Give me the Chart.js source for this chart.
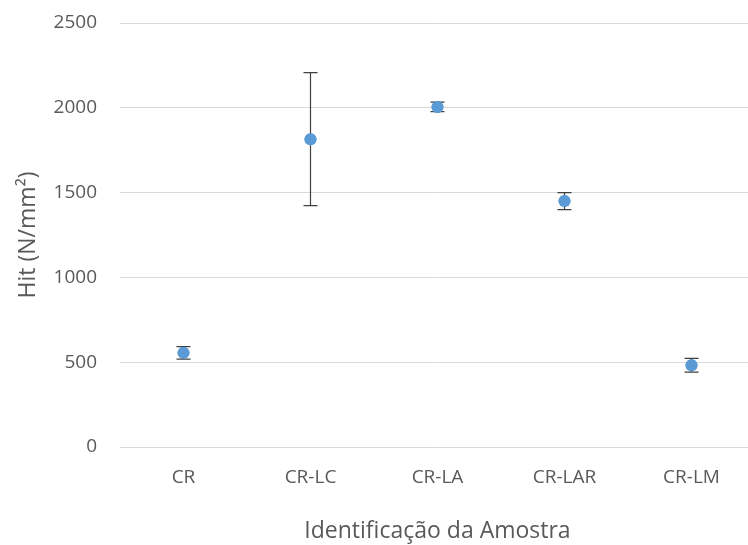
<!DOCTYPE html>
<html>
<head>
<meta charset="utf-8">
<script src="https://cdn.jsdelivr.net/npm/chart.js@4"></script>
<style>
  html, body { margin: 0; padding: 0; background: #fff; overflow: hidden; }
  #wrap { width: 761px; height: 545px; }
</style>
</head>
<body>
<div id="wrap"><canvas id="hit"></canvas></div>
<script>
var samples = ["CR", "CR-LC", "CR-LA", "CR-LAR", "CR-LM"];
var hitValues = [555, 1815, 2005, 1450, 482];
var hitErrors = [37, 392, 28, 50, 40];
var yTicks = [0, 500, 1000, 1500, 2000, 2500];

var textColor = "#595959";
var fontName = "'Open Sans', 'Noto Sans', sans-serif";

// error bars drawn with the y scale
const errorBars = {
  id: "errorBars",
  afterDatasetsDraw(chart) {
    let ctx = chart.ctx;
    let meta = chart.getDatasetMeta(0);
    let y = chart.scales.y;
    ctx.save();
    ctx.strokeStyle = "#404040";
    ctx.lineWidth = 1.2;
    meta.data.forEach((pt, i) => {
      let v = hitValues[i];
      let e = hitErrors[i];
      let top = y.getPixelForValue(v + e);
      let bot = y.getPixelForValue(v - e);
      let x = pt.x;
      ctx.beginPath();
      ctx.moveTo(x, top);
      ctx.lineTo(x, bot);
      ctx.moveTo(x - 7, top);
      ctx.lineTo(x + 7, top);
      ctx.moveTo(x - 7, bot);
      ctx.lineTo(x + 7, bot);
      ctx.stroke();
    });
    ctx.restore();
    // redraw points on top of the bars
    meta.data.forEach((pt) => pt.draw(ctx, chart.chartArea));
  },
};

var ctx = document.getElementById("hit").getContext("2d");
var chart = new Chart(ctx, {
  type: "line",
  data: {
    labels: samples,
    datasets: [
      {
        data: hitValues,
        showLine: false,
        pointRadius: 6,
        pointBorderWidth: 0,
        pointBackgroundColor: "#5B9BD5",
        pointBorderColor: "#5B9BD5",
      },
    ],
  },
  plugins: [errorBars],
  options: {
    responsive: true,
    maintainAspectRatio: false,
    animation: false,
    layout: { padding: { top: 23, right: 0, left: 0, bottom: 0 } },
    plugins: {
      legend: { display: false },
      tooltip: { enabled: false },
    },
    scales: {
      x: {
        offset: true,
        grid: { display: false },
        border: { display: false },
        ticks: {
          color: textColor,
          padding: 11,
          font: { family: fontName, size: 19 },
        },
        title: {
          display: true,
          text: "Identificação da Amostra",
          color: textColor,
          padding: { top: 21, bottom: 0 },
          font: { family: fontName, size: 23 },
        },
        afterFit: (scale) => {
          scale.height = 98;
          scale.paddingLeft = 0;
          scale.paddingRight = 0;
        },
      },
      y: {
        min: 0,
        max: 2500,
        afterBuildTicks: (scale) => {
          scale.ticks = yTicks.map((v) => ({ value: v }));
        },
        grid: { color: "#D9D9D9", drawTicks: false, lineWidth: 1 },
        border: { display: false },
        ticks: {
          color: textColor,
          padding: 23,
          font: { family: fontName, size: 19 },
          callback: (v) => String(v),
        },
        title: {
          display: true,
          text: "Hit (N/mm²)",
          color: textColor,
          padding: { top: 15, bottom: 0 },
          font: { family: fontName, size: 23 },
        },
        afterFit: (scale) => {
          scale.width = 120;
          scale.paddingTop = 0;
          scale.paddingBottom = 0;
        },
      },
    },
  },
});
</script>
</body>
</html>
